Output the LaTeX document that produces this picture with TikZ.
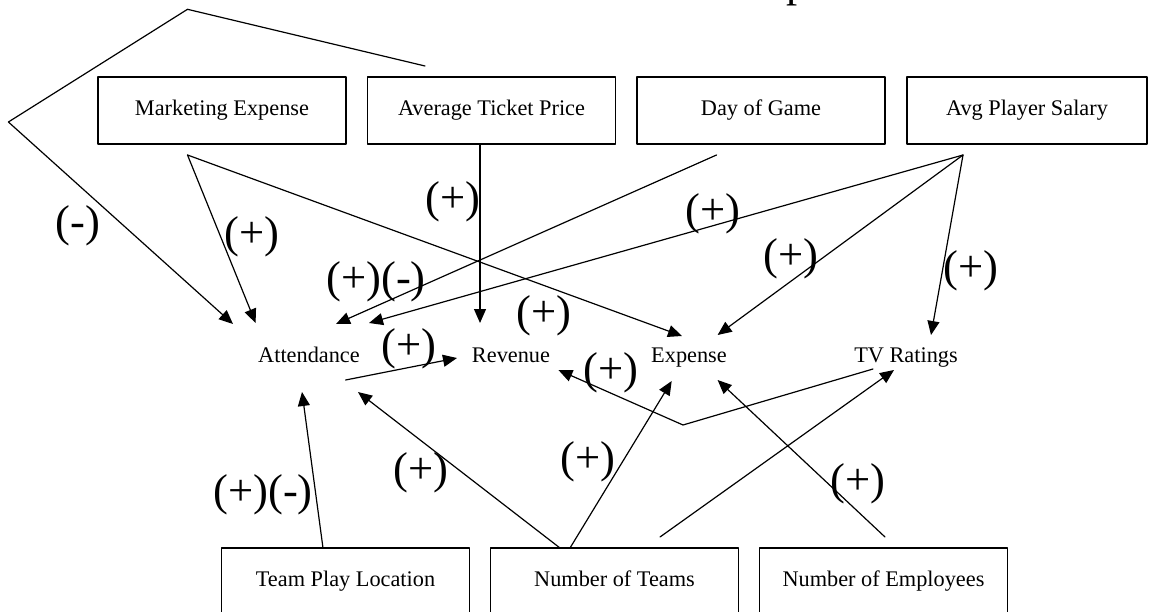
\documentclass[tikz,border=0pt]{standalone}
\usepackage{fontspec}
\setmainfont{Liberation Serif}
\usetikzlibrary{arrows.meta}

\begin{document}
\begin{tikzpicture}[line cap=round,line join=round,x=1pt,y=-1pt,line width=1.2pt,
  >={Triangle[length=14pt,width=12pt]},
  box/.style={draw,line width=1.2pt,minimum width=248pt,minimum height=67pt,inner sep=0pt,
    text height=15.2pt,text depth=4.9pt,font=\fontsize{22.3}{26}\selectfont},
  var/.style={anchor=base,inner sep=0pt,font=\fontsize{22.3}{26}\selectfont},
  sign/.style={inner sep=0pt,font=\fontsize{44.6}{50}\selectfont}]
\useasboundingbox (0,0) rectangle (1150,612);
\clip (0,0) rectangle (1150,612);
% title, cut off at the top edge
\node[anchor=base west,inner sep=0pt,font=\fontsize{44.6}{50}\selectfont] (title) at (786,-3) {p};
% top row
\node[box] (mkt) at (222,110.5) {Marketing Expense};
\node[box] (price) at (491.5,110.5) {Average Ticket Price};
\node[box] (day) at (761,110.5) {Day of Game};
\node[box,minimum width=240pt] (salary) at (1027,110.5) {Avg Player Salary};
% middle row
\node[var] (att) at (309,362) {Attendance};
\node[var] (rev) at (511,362) {Revenue};
\node[var] (exp) at (689,362) {Expense};
\node[var] (tv) at (906,362) {TV Ratings};
% bottom row
\node[box] (loc) at (345.5,581.5) {Team Play Location};
\node[box] (teams) at (614.5,581.5) {Number of Teams};
\node[box] (emp) at (883.5,581.5) {Number of Employees};
% ends of the connectors
\coordinate (mktout) at (187.5,155);
\coordinate (priceout) at (480,144);
\coordinate (pricefree) at (425,66);
\coordinate (loopa) at (187.5,9.3);
\coordinate (loopb) at (8.4,122);
\coordinate (dayout) at (716.5,155);
\coordinate (salout) at (963,155);
\coordinate (attin1) at (233,324);
\coordinate (attin2) at (255.6,323);
\coordinate (attin3) at (336,324);
\coordinate (attin4) at (369,323);
\coordinate (attin5) at (302,392);
\coordinate (attin6) at (358,392);
\coordinate (attout) at (345.6,380);
\coordinate (revin1) at (480,323);
\coordinate (revin2) at (457,358);
\coordinate (revin3) at (558.4,370);
\coordinate (expin1) at (682,336);
\coordinate (expin2) at (717.6,335);
\coordinate (expin3) at (671.7,381);
\coordinate (expin4) at (717.6,380);
\coordinate (tvin1) at (931,335);
\coordinate (tvin2) at (894,370);
\coordinate (tvout) at (873,369);
\coordinate (bend) at (683,425);
\coordinate (locout) at (323,548);
\coordinate (teamsout1) at (560,548);
\coordinate (teamsout2) at (570,548);
\coordinate (teamsfree) at (660,537);
\coordinate (empfree) at (885,537);
% connectors
\draw[->] (pricefree) -- (loopa) -- (loopb) -- (attin1);
\draw[->] (mktout) -- (attin2);
\draw[->] (mktout) -- (expin1);
\draw[->] (priceout) -- (revin1);
\draw[->] (dayout) -- (attin3);
\draw[->] (salout) -- (attin4);
\draw[->] (salout) -- (expin2);
\draw[->] (salout) -- (tvin1);
\draw[->] (attout) -- (revin2);
\draw[->] (tvout) -- (bend) -- (revin3);
\draw[->] (locout) -- (attin5);
\draw[->] (teamsout1) -- (attin6);
\draw[->] (teamsout2) -- (expin3);
\draw[->] (teamsfree) -- (tvin2);
\draw[->] (empfree) -- (expin4);
% signs
\node[sign] (s1) at (78,226) {(-)};
\node[sign] (s2) at (252,237) {(+)};
\node[sign] (s3) at (453,202) {(+)};
\node[sign] (s4) at (376,282) {(+)(-)};
\node[sign] (s5) at (544,316) {(+)};
\node[sign] (s6) at (409,349) {(+)};
\node[sign] (s7) at (713,214) {(+)};
\node[sign] (s8) at (791,259) {(+)};
\node[sign] (s9) at (971,271) {(+)};
\node[sign] (s10) at (611,373) {(+)};
\node[sign] (s11) at (263,495) {(+)(-)};
\node[sign] (s12) at (421,473) {(+)};
\node[sign] (s13) at (588,462) {(+)};
\node[sign] (s14) at (858,484) {(+)};
\end{tikzpicture}
\end{document}
